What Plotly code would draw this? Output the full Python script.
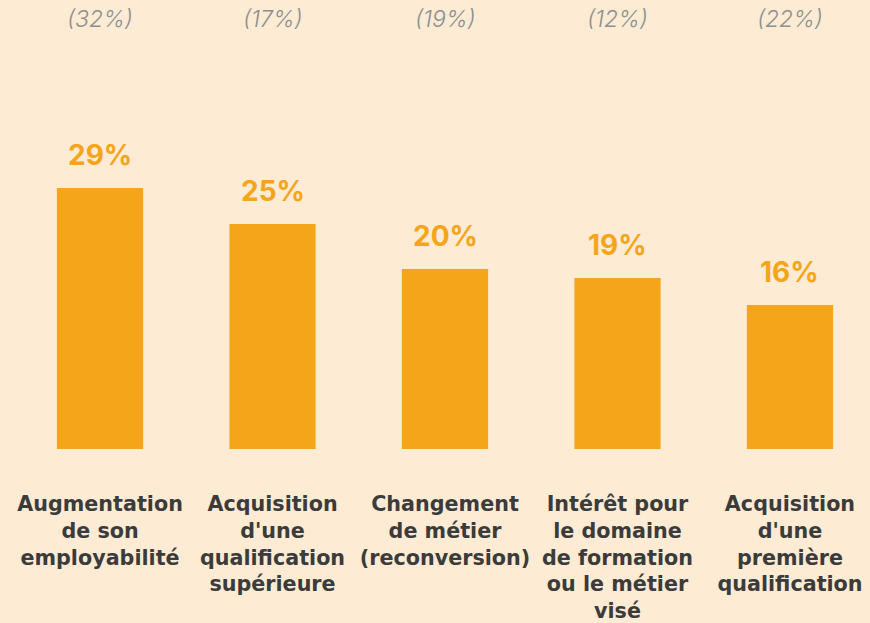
import plotly.graph_objects as go

# Data
categories = [
    "Augmentation<br>de son<br>employabilité",
    "Acquisition<br>d'une<br>qualification<br>supérieure",
    "Changement<br>de métier<br>(reconversion)",
    "Intérêt pour<br>le domaine<br>de formation<br>ou le métier<br>visé",
    "Acquisition<br>d'une<br>première<br>qualification",
]
values = [29, 25, 20, 19, 16]
previous = [32, 17, 19, 12, 22]

BG = "#FDEBD4"
ORANGE = "#F5A51A"
DARK = "#3B3B3B"
GREY = "#8C9090"

fig = go.Figure(go.Bar(
    x=categories,
    y=values,
    marker=dict(color=ORANGE, line=dict(width=0)),
    width=0.5,
    hoverinfo="skip",
))

# value labels above bars
for c, v in zip(categories, values):
    fig.add_annotation(
        x=c, y=v, xref="x", yref="y",
        text="%d%%" % v,
        showarrow=False, yanchor="bottom", yshift=14,
        font=dict(family="Inter", size=28, color=ORANGE, weight=700),
    )

# previous values along the top
for c, p in zip(categories, previous):
    fig.add_annotation(
        x=c, y=1, xref="x", yref="paper",
        text="<i>(%d%%)</i>" % p,
        showarrow=False, yanchor="middle", yshift=-19,
        font=dict(family="Inter", size=23, color=GREY, weight=300),
    )

fig.update_layout(
    width=870, height=623,
    margin=dict(l=0, r=0, t=0, b=174),
    paper_bgcolor=BG, plot_bgcolor=BG,
    showlegend=False,
    xaxis=dict(
        range=[-0.58, 4.464],
        showgrid=False, zeroline=False, showline=False,
        ticks="", ticklabelstandoff=40,
        tickfont=dict(family="DejaVu Sans", size=20.7, color=DARK, weight=700),
    ),
    yaxis=dict(
        range=[0, 49.9],
        visible=False, showgrid=False, zeroline=False,
    ),
)

fig.write_html("out.html", config={"displayModeBar": False},
               post_script="document.body.style.margin='0';")
